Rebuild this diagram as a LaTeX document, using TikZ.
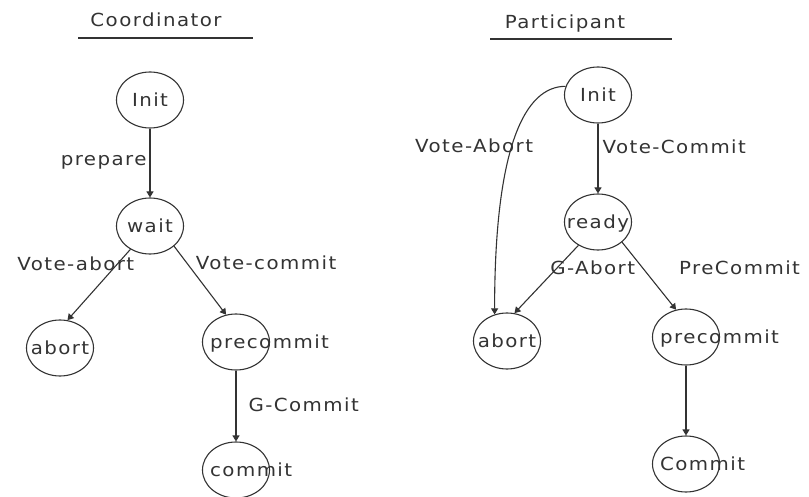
\documentclass[tikz,border=0pt]{standalone}
\usepackage{fontspec}
\setmainfont{DejaVu Sans}[LetterSpace=8,FakeStretch=1.1]
\usetikzlibrary{shapes.geometric,arrows.meta}
\definecolor{ink}{HTML}{333333}
\tikzset{
  txt/.style={font=\fontsize{18}{20}\selectfont, text=ink, inner sep=1pt, text height=13pt, text depth=0pt},
  state/.style={draw=ink, line width=1.1pt, ellipse, minimum width=67pt, minimum height=56pt, inner sep=0pt, label={[txt]center:#1}},
  lstate/.style={draw=ink, line width=1.1pt, ellipse, minimum width=67pt, minimum height=56pt, inner sep=0pt, label={[txt,anchor=west,xshift=7pt]west:#1}},
  tr/.style={-{Triangle[length=6pt,width=7pt]}, draw=ink, line width=1.1pt},
}
\begin{document}
\begin{tikzpicture}[x=1pt,y=-1pt]
  \path[fill=white,use as bounding box] (0,0) rectangle (809,497);

  \node[txt] (ctitle) at (156,20) {Coordinator};
  \draw[ink,line width=2pt] (78,38) -- (253,38);
  \node[state=Init] (cinit) at (150,100) {};
  \node[state=wait] (cwait) at (150,226) {};
  \node[state=abort] (cabort) at (60,348) {};
  \node[lstate=precommit] (cpre) at (236,342) {};
  \node[lstate=commit] (ccommit) at (236,470) {};
  \draw[tr] (cinit) to node[txt,pos=0.44,left=2pt]{prepare} (cwait);
  \draw[tr] (cwait.-130) to node[txt,pos=0.2,xshift=-42pt]{Vote-abort} (cabort.75);
  \draw[tr] (cwait.-40) to node[txt,pos=0.25,xshift=79pt]{Vote-commit} (cpre.110);
  \draw[tr] (cpre) to node[txt,pos=0.49,right=11pt]{G-Commit} (ccommit);

  \node[txt] (ptitle) at (565,22) {Participant};
  \draw[ink,line width=2pt] (490,39) -- (672,39);
  \node[state=Init] (pinit) at (598,95) {};
  \node[state=ready] (pready) at (598,222) {};
  \node[state=abort] (pabort) at (507,341) {};
  \node[lstate=precommit] (pprec) at (686,337) {};
  \node[lstate=Commit] (pcommit) at (686,464) {};
  \draw[tr] (pinit) to node[txt,pos=0.34,right=3pt]{Vote-Commit} (pready);
  \draw[tr] (pinit.165) .. controls +(-40,0) and +(0,-170) .. (pabort.115)
    node[txt,pos=0.54,xshift=-38pt]{Vote-Abort};
  \draw[tr] (pready.-130) to node[txt,pos=0.34,xshift=36pt]{G-Abort} (pabort.75);
  \draw[tr] (pready.-40) to node[txt,pos=0.38,xshift=97pt]{PreCommit} (pprec.110);
  \draw[tr] (pprec) to (pcommit);
\end{tikzpicture}
\end{document}
